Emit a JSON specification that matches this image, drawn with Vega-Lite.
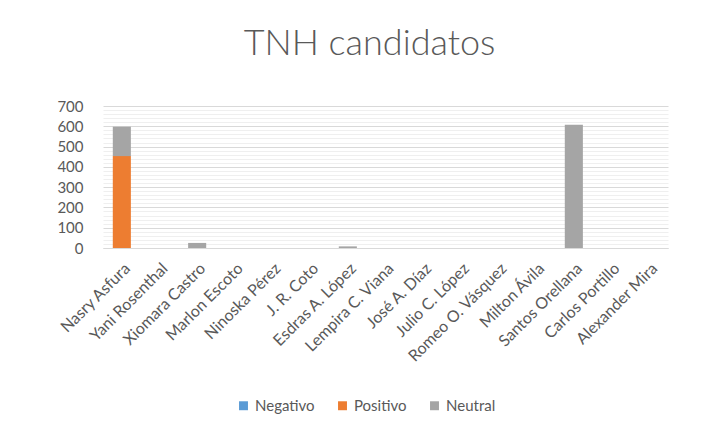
{
  "$schema": "https://vega.github.io/schema/vega-lite/v6.json",
  "autosize": {"type": "none"},
  "width": 565,
  "height": 142,
  "padding": {"left": 103, "top": 106, "right": 50, "bottom": 186},
  "background": "white",
  "title": {
    "text": "TNH candidatos",
    "font": "Lato",
    "fontWeight": 300,
    "fontSize": 36,
    "color": "#595959",
    "anchor": "middle",
    "offset": 36,
    "dx": -16
  },
  "data": {
    "values": [
      {"c": "Nasry Asfura", "s": "Negativo", "v": 0},
      {"c": "Nasry Asfura", "s": "Positivo", "v": 453},
      {"c": "Nasry Asfura", "s": "Neutral", "v": 145},
      {"c": "Yani Rosenthal", "s": "Neutral", "v": 0},
      {"c": "Xiomara Castro", "s": "Neutral", "v": 25},
      {"c": "Marlon Escoto", "s": "Neutral", "v": 0},
      {"c": "Ninoska Pérez", "s": "Neutral", "v": 0},
      {"c": "J. R. Coto", "s": "Neutral", "v": 0},
      {"c": "Esdras A. López", "s": "Neutral", "v": 8},
      {"c": "Lempira C. Viana", "s": "Neutral", "v": 0},
      {"c": "José A. Díaz", "s": "Neutral", "v": 0},
      {"c": "Julio C. López", "s": "Neutral", "v": 0},
      {"c": "Romeo O. Vásquez", "s": "Neutral", "v": 0},
      {"c": "Milton Ávila", "s": "Neutral", "v": 0},
      {"c": "Santos Orellana", "s": "Neutral", "v": 607},
      {"c": "Carlos Portillo", "s": "Neutral", "v": 0},
      {"c": "Alexander Mira", "s": "Neutral", "v": 0}
    ]
  },
  "encoding": {
    "x": {
      "field": "c", "type": "nominal", "sort": null,
      "scale": {"paddingInner": 0.52, "paddingOuter": 0.26},
      "axis": {
        "title": null, "labelAngle": -45, "labelFontSize": 16, "labelFont": "Lato",
        "labelColor": "#595959", "ticks": false, "domainColor": "#d9d9d9",
        "labelPadding": 12
      }
    }
  },
  "layer": [
    {
      "mark": {"type": "bar", "opacity": 0},
      "encoding": {
        "y": {
          "field": "v", "type": "quantitative", "aggregate": "sum",
          "scale": {"domain": [0, 700]},
          "axis": {
            "orient": "left", "title": null, "labels": false, "ticks": false, "domain": false,
            "grid": true, "gridColor": "#efefef", "gridWidth": 1, "zindex": 0,
            "values": [20,40,60,80,120,140,160,180,220,240,260,280,320,340,360,380,420,440,460,480,520,540,560,580,620,640,660,680]
          }
        }
      }
    },
    {
      "mark": {"type": "bar"},
      "encoding": {
        "y": {
          "field": "v", "type": "quantitative", "aggregate": "sum", "stack": "zero",
          "scale": {"domain": [0, 700]},
          "axis": {
            "orient": "left",
            "title": null, "values": [0,100,200,300,400,500,600,700],
            "labelFontSize": 15, "labelFont": "Lato", "labelColor": "#595959",
            "ticks": false, "domain": false, "grid": true, "gridColor": "#d9d9d9",
            "labelPadding": 20, "zindex": 0
          }
        },
        "color": {
          "field": "s", "type": "nominal",
          "scale": {"domain": ["Negativo", "Positivo", "Neutral"], "range": ["#5B9BD5", "#ED7D31", "#A5A5A5"]},
          "legend": {
            "title": null, "orient": "none", "direction": "horizontal",
            "legendX": 133, "legendY": 292,
            "symbolType": "square", "symbolSize": 80, "labelFontSize": 15,
            "labelFont": "Lato", "labelColor": "#595959", "columnPadding": 20
          }
        }
      }
    }
  ],
  "resolve": {"axis": {"y": "independent"}},
  "config": {"view": {"stroke": null}}
}
